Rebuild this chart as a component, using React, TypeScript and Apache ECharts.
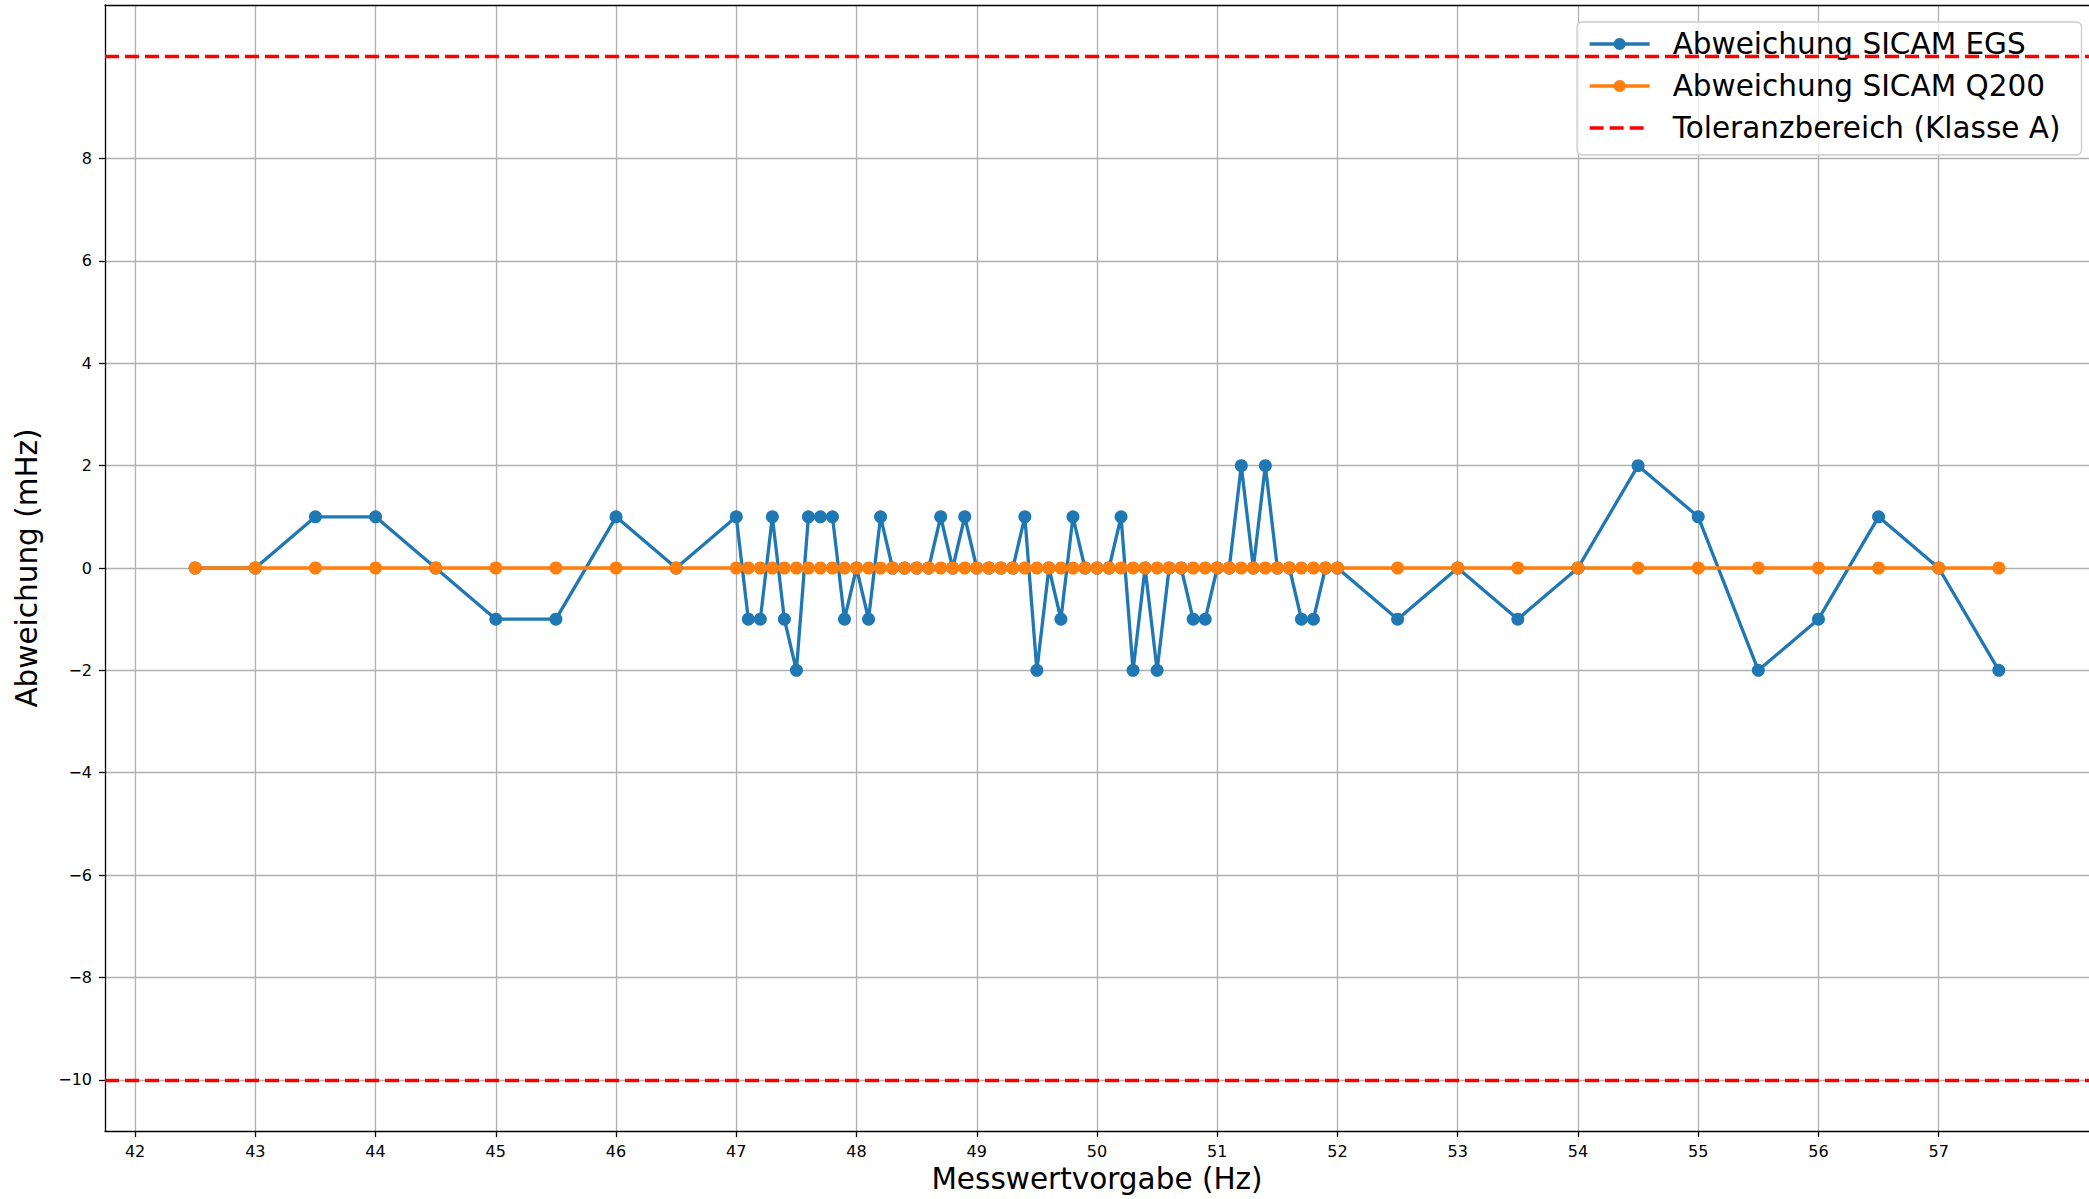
import React, { useEffect, useRef } from "react";
import * as echarts from "echarts";

// Frequency set points (Hz)
const freqHz = [
  42.5, 43, 43.5, 44, 44.5, 45, 45.5, 46, 46.5,
  47.0, 47.1, 47.2, 47.3, 47.4, 47.5, 47.6, 47.7, 47.8, 47.9,
  48.0, 48.1, 48.2, 48.3, 48.4, 48.5, 48.6, 48.7, 48.8, 48.9,
  49.0, 49.1, 49.2, 49.3, 49.4, 49.5, 49.6, 49.7, 49.8, 49.9,
  50.0, 50.1, 50.2, 50.3, 50.4, 50.5, 50.6, 50.7, 50.8, 50.9,
  51.0, 51.1, 51.2, 51.3, 51.4, 51.5, 51.6, 51.7, 51.8, 51.9,
  52.0, 52.5, 53, 53.5, 54, 54.5, 55, 55.5, 56, 56.5, 57, 57.5,
];

// Deviation of SICAM EGS (mHz)
const devEGS = [
  0, 0, 1, 1, 0, -1, -1, 1, 0,
  1, -1, -1, 1, -1, -2, 1, 1, 1, -1,
  0, -1, 1, 0, 0, 0, 0, 1, 0, 1,
  0, 0, 0, 0, 1, -2, 0, -1, 1, 0,
  0, 0, 1, -2, 0, -2, 0, 0, -1, -1,
  0, 0, 2, 0, 2, 0, 0, -1, -1, 0,
  0, -1, 0, -1, 0, 2, 1, -2, -1, 1, 0, -2,
];

// Deviation of SICAM Q200 (mHz)
const devQ200 = [
  0, 0, 0, 0, 0, 0, 0, 0, 0,
  0, 0, 0, 0, 0, 0, 0, 0, 0, 0,
  0, 0, 0, 0, 0, 0, 0, 0, 0, 0,
  0, 0, 0, 0, 0, 0, 0, 0, 0, 0,
  0, 0, 0, 0, 0, 0, 0, 0, 0, 0,
  0, 0, 0, 0, 0, 0, 0, 0, 0, 0,
  0, 0, 0, 0, 0, 0, 0, 0, 0, 0, 0, 0,
];

// Class A tolerance band (mHz)
const toleranceLimits = [10, -10];

const xTicks = [42, 43, 44, 45, 46, 47, 48, 49, 50, 51, 52, 53, 54, 55, 56, 57];
const yTicks = [-10, -8, -6, -4, -2, 0, 2, 4, 6, 8];

const seriesNames = [
  "Abweichung SICAM EGS",
  "Abweichung SICAM Q200",
  "Toleranzbereich (Klasse A)",
];

const FONT = "DejaVu Sans";
const BLUE = "#1f77b4";
const ORANGE = "#ff7f0e";
const RED = "#ff0000";
const GRID = "#b0b0b0";

const minusSign = (v: number) => String(v).replace("-", "\u2212");

export default function App() {
  const ref = useRef<HTMLDivElement>(null);

  useEffect(() => {
    if (!ref.current) return;
    const chart = echarts.init(ref.current, undefined, { renderer: "svg" });

    const egsData = freqHz.map((x, i) => [x, devEGS[i]]);
    const q200Data = freqHz.map((x, i) => [x, devQ200[i]]);

    const axisLine = { show: true, onZero: false, lineStyle: { color: "#000", width: 1.3 } };
    const axisTick = { show: true, inside: false, length: 6, lineStyle: { color: "#000", width: 1.3 } };
    const splitLine = { show: true, lineStyle: { color: GRID, width: 1.3 } };

    chart.setOption({
      animation: false,
      backgroundColor: "#fff",
      textStyle: { fontFamily: FONT },
      grid: { left: 105, right: 0, top: 5, bottom: 68, containLabel: false },
      legend: {
        left: 1577,
        top: 22,
        orient: "vertical",
        data: seriesNames,
        itemWidth: 60,
        itemHeight: 15,
        itemGap: 12,
        padding: [7, 21, 12, 11],
        backgroundColor: "rgba(255,255,255,0.8)",
        borderColor: "#cccccc",
        borderWidth: 1.3,
        borderRadius: 5,
        lineStyle: { width: 3.3 },
        textStyle: {
          fontFamily: FONT,
          fontSize: 29.5,
          color: "#000",
          padding: [0, 0, 0, 18],
        },
      },
      xAxis: [
        {
          type: "value",
          min: 41.75,
          max: 58.25,
          name: "Messwertvorgabe (Hz)",
          nameLocation: "middle",
          nameGap: 33,
          nameTextStyle: { fontFamily: FONT, fontSize: 29.5, color: "#000" },
          axisLine,
          axisTick: { ...axisTick, customValues: xTicks },
          axisLabel: {
            customValues: xTicks,
            fontFamily: FONT,
            fontSize: 16,
            color: "#000",
            margin: 12,
            formatter: (v: number) => minusSign(v),
          },
          splitLine,
        },
        {
          type: "value",
          position: "top",
          min: 41.75,
          max: 58.25,
          axisLine,
          axisTick: { show: false },
          axisLabel: { show: false },
          splitLine: { show: false },
        },
      ],
      yAxis: {
        type: "value",
        min: -11,
        max: 11,
        name: "Abweichung (mHz)",
        nameLocation: "middle",
        nameRotate: 90,
        nameGap: 63,
        nameTextStyle: { fontFamily: FONT, fontSize: 29.5, color: "#000" },
        axisLine,
        axisTick: { ...axisTick, customValues: yTicks },
        axisLabel: {
          customValues: yTicks,
          fontFamily: FONT,
          fontSize: 16,
          color: "#000",
          margin: 13,
          formatter: (v: number) => minusSign(v),
        },
        splitLine,
      },
      series: [
        {
          name: seriesNames[0],
          type: "line",
          data: egsData,
          symbol: "circle",
          symbolSize: 13,
          showSymbol: true,
          lineStyle: { color: BLUE, width: 3.3 },
          itemStyle: { color: BLUE },
          emphasis: { disabled: true },
        },
        {
          name: seriesNames[1],
          type: "line",
          data: q200Data,
          symbol: "circle",
          symbolSize: 13,
          showSymbol: true,
          lineStyle: { color: ORANGE, width: 3.3 },
          itemStyle: { color: ORANGE },
          emphasis: { disabled: true },
        },
        {
          name: seriesNames[2],
          type: "line",
          data: [],
          symbol: "none",
          lineStyle: { color: RED, width: 3.3, type: [14, 6] },
          itemStyle: { color: "rgba(0,0,0,0)", borderWidth: 0 },
          markLine: {
            silent: true,
            symbol: "none",
            label: { show: false },
            lineStyle: { color: RED, width: 3.3, type: [14, 6] },
            emphasis: { disabled: true },
            data: toleranceLimits.map((v) => ({ yAxis: v })),
          },
        },
      ],
    });

    return () => chart.dispose();
  }, []);

  return (
    <div
      ref={ref}
      style={{ position: "fixed", left: 0, top: 0, width: 2089, height: 1199, background: "#fff" }}
    />
  );
}
